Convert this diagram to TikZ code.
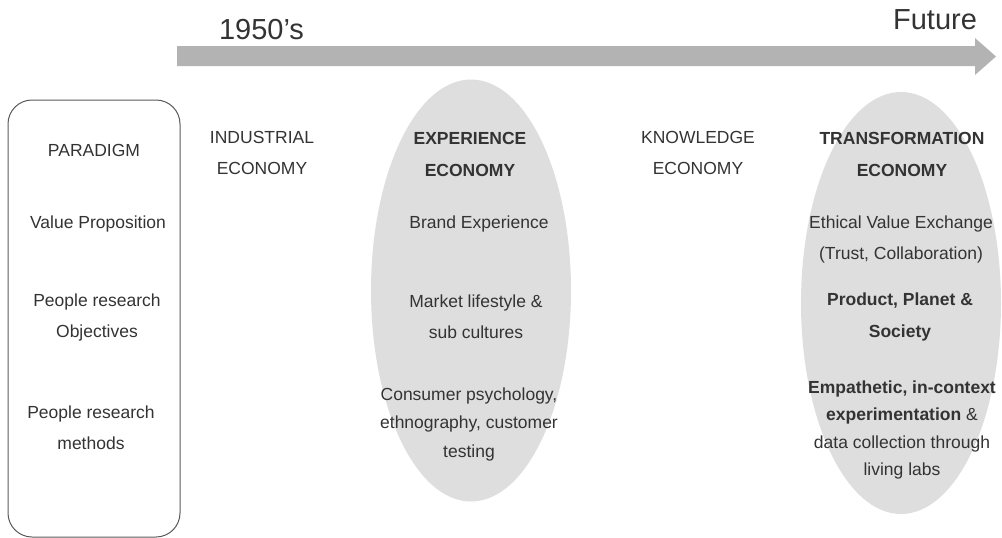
\documentclass[tikz,border=0pt]{standalone}
\usepackage{fontspec}
\setmainfont{Liberation Sans}
\usepackage{xcolor}
\usepackage{tikz}
\usetikzlibrary{shapes.geometric}
\definecolor{ink}{HTML}{333333}
\definecolor{shaftgrey}{HTML}{B3B3B3}
\definecolor{blobgrey}{HTML}{DEDEDE}
\definecolor{framegrey}{HTML}{5A5A5A}
\tikzset{
    every picture/.style={line cap=round,line join=round},
    celltext/.style={text=ink,inner sep=0pt,align=center,
      font=\fontsize{17.5}{31}\selectfont},
    celltight/.style={celltext,font=\fontsize{17.5}{28.5}\selectfont},
    eratext/.style={celltext,font=\fontsize{17.5}{32}\selectfont\bfseries},
    yeartext/.style={text=ink,inner sep=0pt,font=\fontsize{29}{31}\selectfont},
    eraband/.style={ellipse,fill=blobgrey,draw=none,inner sep=0pt,
      minimum width=200pt,minimum height=422pt},
    paneframe/.style={draw=framegrey,line width=1pt,rounded corners=24pt}
}
\begin{document}
\begin{tikzpicture}[x=1pt,y=-1pt]
    \useasboundingbox (0,0) rectangle (1002,538);
    % time line
    \fill[shaftgrey] (177,46) -- (975,46) -- (975,38) -- (996,56.5)
      -- (975,75) -- (975,66) -- (177,66) -- cycle;
    \node[yeartext] (start) at (261.5,30) {1950's};
    \node[yeartext] (future) at (935,20) {Future};
    % highlighted economies
    \node[eraband] (expband) at (471,290.5) {};
    \node[eraband] (trfband) at (901,303) {};
    % row headings
    \draw[paneframe] (8,100) rectangle (180,537);
    \node[celltext] (paradigm) at (94,150) {PARADIGM};
    \node[celltext] (valueprop) at (98,224) {Value Proposition};
    \node[celltext] (objectives) at (97,317) {People research\\Objectives};
    \node[celltext] (methods) at (91,428) {People research\\methods};
    % industrial and knowledge economy
    \node[celltext] (industrial) at (262,153) {INDUSTRIAL\\ECONOMY};
    \node[celltext] (knowledge) at (698,153) {KNOWLEDGE\\ECONOMY};
    % experience economy
    \node[eratext] (experience) at (470,154) {EXPERIENCE\\ECONOMY};
    \node[celltext] (brand) at (479,224) {Brand Experience};
    \node[celltext] (lifestyle) at (476,317) {Market lifestyle \&\\sub cultures};
    \node[celltight] (consumer) at (469,424) {Consumer psychology,\\ethnography, customer\\testing};
    % transformation economy
    \node[eratext] (transformation) at (902,154) {TRANSFORMATION\\ECONOMY};
    \node[celltext] (ethical) at (901,239) {Ethical Value Exchange\\(Trust, Collaboration)};
    \node[eratext] (planet) at (900,317) {Product, Planet \&\\Society};
    \node[celltext,font=\fontsize{17.5}{27.5}\selectfont] (livinglabs) at (902,430)
      {\textbf{Empathetic, in-context}\\\textbf{experimentation} \&\\data collection through\\living labs};
\end{tikzpicture}
\end{document}
